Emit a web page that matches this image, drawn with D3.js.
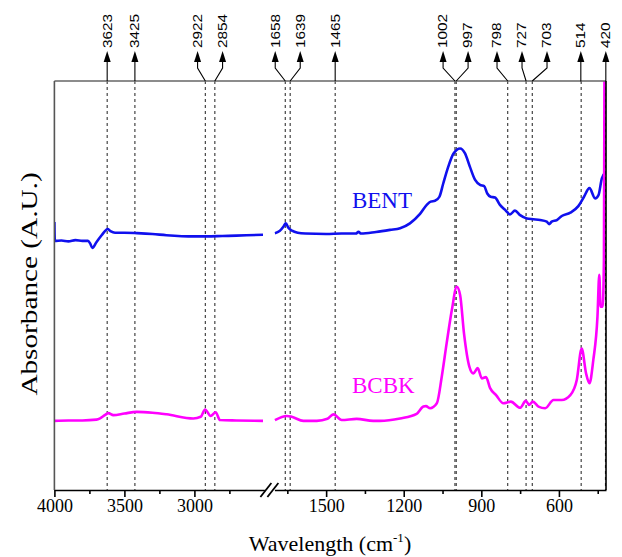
<!DOCTYPE html>
<html>
<head>
<meta charset="utf-8">
<script src="https://cdn.jsdelivr.net/npm/d3@7"></script>
<style>
  html, body { margin: 0; padding: 0; background: #fff; }
  svg { display: block; }
</style>
</head>
<body>
<svg id="chart" width="622" height="557"></svg>
<script>
// FTIR spectra, [wavenumber (cm-1), absorbance (A.U.)], split across the broken axis
const bentHigh = [
  [4000, 65.5], [3997, 60.9], [3950, 61.0], [3900, 60.8], [3850, 61.1], [3800, 60.9],
  [3760, 60.9], [3745, 60.3], [3729, 59.2], [3700, 60.6], [3660, 62.4], [3639, 63.3],
  [3620, 63.8], [3600, 63.3], [3567, 62.9], [3500, 62.9], [3410, 62.8], [3300, 62.6],
  [3200, 62.3], [3000, 62.0], [2912, 62.0], [2800, 62.1], [2700, 62.2], [2510, 62.4]
];
const bentLow = [
  [1698, 62.8], [1680, 63.3], [1664, 64.5], [1656, 65.2], [1646, 64.1], [1632, 63.4],
  [1610, 62.9], [1580, 62.7], [1500, 62.6], [1440, 62.7], [1385, 62.7], [1375, 63.1],
  [1365, 62.7], [1307, 63.1], [1253, 63.6], [1214, 64.0], [1176, 65.2], [1137, 67.5],
  [1111, 69.7], [1096, 70.5], [1079, 70.7], [1062, 71.7], [1047, 75.0], [1028, 79.0],
  [1008, 82.2], [982, 83.5], [963, 82.3], [944, 79.0], [924, 75.8], [905, 74.6],
  [889, 74.3], [877, 72.5], [864, 71.7], [847, 71.5], [828, 69.7], [808, 68.5],
  [789, 67.4], [770, 68.3], [750, 67.2], [724, 66.4], [699, 66.2], [673, 66.0],
  [647, 65.6], [638, 65.0], [628, 65.6], [608, 66.0], [589, 67.0], [556, 67.8],
  [525, 69.4], [503, 71.7], [482, 73.8], [460, 71.3], [447, 72.1], [434, 76.2], [420, 77.6]
];
const bcbkHigh = [
  [4000, 16.9], [3900, 17.0], [3800, 17.0], [3700, 17.2], [3674, 17.5], [3640, 18.3],
  [3615, 18.8], [3579, 18.3], [3500, 18.7], [3412, 19.1], [3300, 18.9], [3198, 18.5],
  [3008, 17.5], [2955, 17.9], [2924, 19.7], [2884, 18.1], [2848, 19.0], [2817, 17.1],
  [2700, 17.0], [2510, 16.9]
];
const bcbkLow = [
  [1698, 17.1], [1652, 18.1], [1633, 17.9], [1588, 16.9], [1536, 16.9], [1495, 17.4],
  [1472, 18.5], [1440, 17.1], [1382, 17.4], [1318, 16.9], [1292, 16.9], [1214, 17.5],
  [1150, 18.6], [1124, 20.4], [1114, 20.5], [1098, 20.0], [1072, 21.2], [1053, 27.7],
  [1034, 35.9], [1014, 44.0], [995, 49.7], [982, 47.7], [967, 38.3], [946, 30.1],
  [931, 28.5], [914, 29.8], [898, 27.3], [882, 27.6], [866, 24.9], [843, 23.2],
  [815, 21.2], [786, 21.6], [750, 20.1], [728, 21.8], [715, 20.8], [701, 21.6],
  [679, 20.4], [653, 20.0], [621, 22.0], [589, 22.0], [556, 23.2], [531, 26.9],
  [512, 34.6], [495, 28.5], [482, 26.1], [467, 31.8], [451, 42.4], [444, 52.6],
  [439, 44.8], [431, 44.8], [426, 56.2], [424, 100], [420, 105]
];

// Assigned band positions (cm-1)
const peakLabels = [3623, 3425, 2922, 2854, 1658, 1639, 1465, 1002, 997, 798, 727, 703, 514, 420];

// Axis ticks on both sides of the break
const majorTicksHigh = [4000, 3500, 3000];
const minorTicksHigh = [3750, 3250, 2750];
const majorTicksLow = [1500, 1200, 900, 600];
const minorTicksLow = [1650, 1350, 1050, 750, 450];

const seriesNames = ["BENT", "BCBK"];
const seriesColors = ["#1010ee", "#ff00ff"];
// where each series name sits, in data coordinates
const nameAnchors = [[1400, 69.0], [1400, 23.7]];

// ---- layout ----
const svg = d3.select("#chart");
const frame = { left: 54.4, right: 606, top: 81, bottom: 490 };

const xHigh = d3.scaleLinear().domain([4000, 2500]).range([frame.left, 264.4]);
const xLow = d3.scaleLinear().domain([1700, 418]).range([274.4, frame.right]);
const xOf = w => (w >= 2000 ? xHigh(w) : xLow(w));
const y = d3.scaleLinear().domain([0, 100]).range([frame.bottom, frame.top]);

const serif = "'Liberation Serif', 'Times New Roman', serif";
const sans = "'Liberation Sans', Arial, sans-serif";

svg.append("defs").append("clipPath").attr("id", "plotClip")
  .append("rect")
  .attr("x", frame.left).attr("y", frame.top)
  .attr("width", frame.right - frame.left).attr("height", frame.bottom - frame.top);

// dashed guides at each assigned band
svg.append("g").selectAll("line").data(peakLabels).join("line")
  .attr("x1", d => xOf(d)).attr("x2", d => xOf(d))
  .attr("y1", frame.top).attr("y2", frame.bottom)
  .attr("stroke", "#333").attr("stroke-width", 1.1)
  .attr("stroke-dasharray", "3,3");

// spectra
const line = d3.line()
  .x(d => xOf(d[0])).y(d => y(d[1]))
  .curve(d3.curveMonotoneX);

const spectra = svg.append("g").attr("clip-path", "url(#plotClip)");
[[bentHigh, bentLow], [bcbkHigh, bcbkLow]].forEach((segs, i) => {
  segs.forEach(seg => {
    spectra.append("path")
      .attr("d", line(seg))
      .attr("fill", "none")
      .attr("stroke", seriesColors[i])
      .attr("stroke-width", 2.6)
      .attr("stroke-linejoin", "round");
  });
});

// series names
svg.append("g").selectAll("text").data(seriesNames).join("text")
  .attr("x", (d, i) => xLow(nameAnchors[i][0]))
  .attr("y", (d, i) => y(nameAnchors[i][1]))
  .attr("fill", (d, i) => seriesColors[i])
  .attr("font-family", serif).attr("font-size", 23)
  .text(d => d);

// frame: top and left edges, right edge
svg.append("line")
  .attr("x1", frame.left).attr("x2", frame.right)
  .attr("y1", frame.top).attr("y2", frame.top)
  .attr("stroke", "#666").attr("stroke-width", 1.6);
svg.append("line")
  .attr("x1", frame.left).attr("x2", frame.left)
  .attr("y1", frame.top).attr("y2", frame.bottom)
  .attr("stroke", "#555").attr("stroke-width", 1.6);
svg.append("line")
  .attr("x1", frame.right).attr("x2", frame.right)
  .attr("y1", frame.top).attr("y2", frame.bottom)
  .attr("stroke", "#000").attr("stroke-width", 1.6);

// bottom axes (major with labels, minor without)
function drawAxis(scale, majors, minors) {
  const gMaj = svg.append("g").attr("transform", `translate(0,${frame.bottom})`)
    .call(d3.axisBottom(scale).tickValues(majors).tickFormat(d3.format("d"))
      .tickSize(7).tickSizeOuter(0).tickPadding(2));
  gMaj.select(".domain").attr("stroke", "#000").attr("stroke-width", 1.6);
  gMaj.selectAll(".tick line").attr("stroke", "#000").attr("stroke-width", 1.6);
  gMaj.selectAll(".tick text").attr("font-family", serif).attr("font-size", 18).attr("fill", "#000");
  const gMin = svg.append("g").attr("transform", `translate(0,${frame.bottom})`)
    .call(d3.axisBottom(scale).tickValues(minors).tickFormat("").tickSize(4).tickSizeOuter(0));
  gMin.select(".domain").remove();
  gMin.selectAll(".tick line").attr("stroke", "#000").attr("stroke-width", 1.6);
}
drawAxis(xHigh, majorTicksHigh, minorTicksHigh);
drawAxis(xLow, majorTicksLow, minorTicksLow);

// axis break marks
const gapMid = (xHigh.range()[1] + xLow.range()[0]) / 2;
svg.append("g").selectAll("line").data([-3.5, 3.5]).join("line")
  .attr("x1", d => gapMid + d - 5.5).attr("y1", frame.bottom + 7)
  .attr("x2", d => gapMid + d + 5.5).attr("y2", frame.bottom - 7)
  .attr("stroke", "#000").attr("stroke-width", 1.8);

// band labels with leader arrows, spread so neighbours don't collide
const lineX = peakLabels.map(xOf);
const labelX = lineX.slice();
const minGap = 25;
for (let it = 0; it < 400; it++) {
  for (let i = 0; i < labelX.length - 1; i++) {
    const d = labelX[i + 1] - labelX[i];
    if (d < minGap) {
      const m = (minGap - d) / 2;
      labelX[i] -= m;
      labelX[i + 1] += m;
    }
  }
}
const bendY = 68, tipY = 51, headBase = 61;
const ann = svg.append("g");
peakLabels.forEach((v, i) => {
  const x0 = lineX[i], x1 = labelX[i];
  ann.append("path")
    .attr("d", `M${x0},${frame.top} L${x1},${Math.abs(x1 - x0) < 0.5 ? frame.top : bendY} L${x1},${headBase}`)
    .attr("fill", "none").attr("stroke", "#000").attr("stroke-width", 1.1);
  ann.append("path")
    .attr("d", `M${x1},${tipY} L${x1 - 3.5},${headBase + 1} L${x1 + 3.5},${headBase + 1} Z`)
    .attr("fill", "#000");
  // condensed vertical label, stretched along its reading direction
  ann.append("text")
    .attr("transform", `translate(${x1},${tipY - 3}) rotate(-90) scale(1.28,1)`)
    .attr("dy", "0.36em")
    .attr("font-family", sans).attr("font-size", 12).attr("fill", "#000")
    .text(v);
});

// axis titles
const xTitle = svg.append("text")
  .attr("x", 330).attr("y", 551)
  .attr("text-anchor", "middle")
  .attr("font-family", serif).attr("font-size", 22).attr("fill", "#000");
xTitle.append("tspan").text("Wavelength (cm");
xTitle.append("tspan").attr("dy", -9).attr("font-size", 13).text("-1");
xTitle.append("tspan").attr("dy", 9).text(")");

svg.append("text")
  .attr("transform", "translate(37,284) rotate(-90) scale(1.3,1)")
  .attr("text-anchor", "middle")
  .attr("font-family", serif).attr("font-size", 22.5).attr("fill", "#000")
  .text("Absorbance (A.U.)");
</script>
</body>
</html>
